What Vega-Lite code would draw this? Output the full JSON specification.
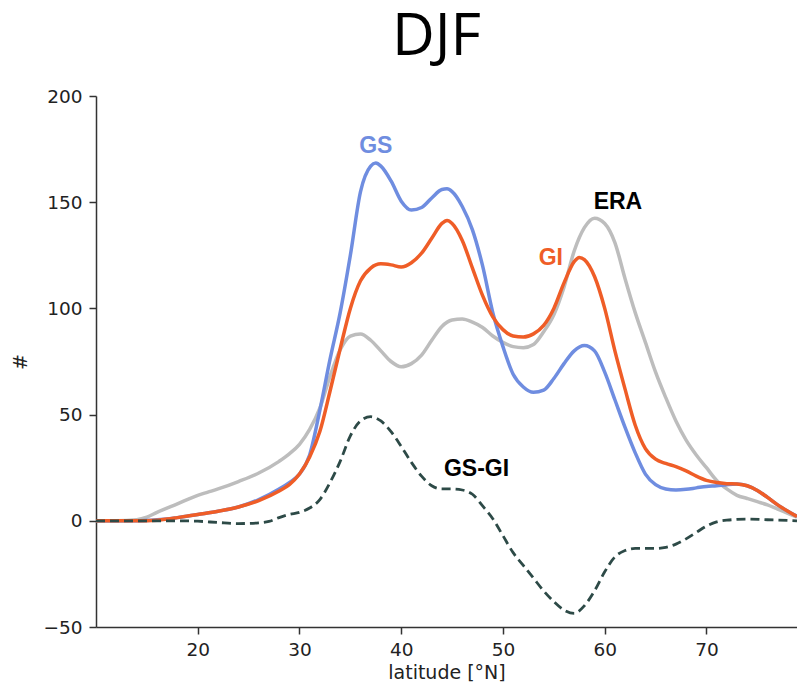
{
  "$schema": "https://vega.github.io/schema/vega-lite/v6.json",
  "autosize": "none",
  "width": 701,
  "height": 531,
  "padding": {"left": 96, "top": 96, "right": 0, "bottom": 60},
  "background": "white",
  "title": {"text": "DJF", "font": "Open Sans", "fontSize": 59, "fontWeight": "normal", "color": "#000", "anchor": "middle", "offset": 20, "dx": -10},
  "config": {
    "view": {"stroke": null},
    "axis": {"domainColor": "#333", "domainWidth": 1.5, "tickColor": "#333", "tickWidth": 1.5, "tickSize": 7, "labelFont": "DejaVu Sans", "labelFontSize": 18.5, "labelColor": "#222", "titleFont": "DejaVu Sans", "titleFontSize": 19, "titleFontWeight": "normal", "titleColor": "#222", "grid": false}
  },
  "datasets": {
    "curves": [
      {"series": "GS", "lat": 10, "val": 0}, {"series": "GS", "lat": 12, "val": 0}, {"series": "GS", "lat": 14, "val": 0}, {"series": "GS", "lat": 16, "val": 0.5}, {"series": "GS", "lat": 18, "val": 1.5}, {"series": "GS", "lat": 20, "val": 3}, {"series": "GS", "lat": 22, "val": 4.5}, {"series": "GS", "lat": 24, "val": 6.5}, {"series": "GS", "lat": 26, "val": 10}, {"series": "GS", "lat": 28, "val": 15}, {"series": "GS", "lat": 29, "val": 18}, {"series": "GS", "lat": 30, "val": 22}, {"series": "GS", "lat": 31, "val": 31}, {"series": "GS", "lat": 32, "val": 52}, {"series": "GS", "lat": 33, "val": 76}, {"series": "GS", "lat": 34, "val": 98}, {"series": "GS", "lat": 35, "val": 125}, {"series": "GS", "lat": 36, "val": 155}, {"series": "GS", "lat": 37, "val": 167}, {"series": "GS", "lat": 37.5, "val": 168.4}, {"series": "GS", "lat": 38, "val": 167}, {"series": "GS", "lat": 39, "val": 160}, {"series": "GS", "lat": 40, "val": 150.5}, {"series": "GS", "lat": 41, "val": 146.3}, {"series": "GS", "lat": 42, "val": 147.5}, {"series": "GS", "lat": 43, "val": 152}, {"series": "GS", "lat": 44, "val": 156}, {"series": "GS", "lat": 44.5, "val": 156.3}, {"series": "GS", "lat": 45, "val": 155}, {"series": "GS", "lat": 46, "val": 148}, {"series": "GS", "lat": 47, "val": 137}, {"series": "GS", "lat": 48, "val": 120}, {"series": "GS", "lat": 49, "val": 98}, {"series": "GS", "lat": 50, "val": 82}, {"series": "GS", "lat": 51, "val": 69}, {"series": "GS", "lat": 52, "val": 63}, {"series": "GS", "lat": 53, "val": 60.5}, {"series": "GS", "lat": 54, "val": 61.5}, {"series": "GS", "lat": 55, "val": 67}, {"series": "GS", "lat": 56, "val": 74}, {"series": "GS", "lat": 57, "val": 80}, {"series": "GS", "lat": 58, "val": 82.5}, {"series": "GS", "lat": 59, "val": 80}, {"series": "GS", "lat": 60, "val": 70}, {"series": "GS", "lat": 61, "val": 57}, {"series": "GS", "lat": 62, "val": 44}, {"series": "GS", "lat": 63, "val": 32}, {"series": "GS", "lat": 64, "val": 22}, {"series": "GS", "lat": 65, "val": 17}, {"series": "GS", "lat": 66, "val": 15}, {"series": "GS", "lat": 67, "val": 14.5}, {"series": "GS", "lat": 68, "val": 14.8}, {"series": "GS", "lat": 69, "val": 15.5}, {"series": "GS", "lat": 70, "val": 16.2}, {"series": "GS", "lat": 71, "val": 16.5}, {"series": "GS", "lat": 72, "val": 17}, {"series": "GS", "lat": 73, "val": 17.3}, {"series": "GS", "lat": 74, "val": 16.5}, {"series": "GS", "lat": 75, "val": 14.3}, {"series": "GS", "lat": 76, "val": 11}, {"series": "GS", "lat": 77, "val": 7.5}, {"series": "GS", "lat": 78, "val": 4.5}, {"series": "GS", "lat": 78.9, "val": 2.2},

      {"series": "GI", "lat": 10, "val": 0}, {"series": "GI", "lat": 12, "val": 0}, {"series": "GI", "lat": 14, "val": 0}, {"series": "GI", "lat": 16, "val": 0.3}, {"series": "GI", "lat": 17, "val": 0.8}, {"series": "GI", "lat": 18, "val": 1.5}, {"series": "GI", "lat": 20, "val": 3}, {"series": "GI", "lat": 22, "val": 4.5}, {"series": "GI", "lat": 24, "val": 6.5}, {"series": "GI", "lat": 26, "val": 9.5}, {"series": "GI", "lat": 28, "val": 14}, {"series": "GI", "lat": 29, "val": 17}, {"series": "GI", "lat": 30, "val": 22}, {"series": "GI", "lat": 31, "val": 30}, {"series": "GI", "lat": 32, "val": 42}, {"series": "GI", "lat": 33, "val": 61}, {"series": "GI", "lat": 34, "val": 81}, {"series": "GI", "lat": 35, "val": 100}, {"series": "GI", "lat": 36, "val": 113}, {"series": "GI", "lat": 37, "val": 119}, {"series": "GI", "lat": 38, "val": 121}, {"series": "GI", "lat": 39, "val": 120.5}, {"series": "GI", "lat": 40, "val": 119.5}, {"series": "GI", "lat": 41, "val": 121.5}, {"series": "GI", "lat": 42, "val": 126}, {"series": "GI", "lat": 43, "val": 133}, {"series": "GI", "lat": 44, "val": 140}, {"series": "GI", "lat": 44.5, "val": 141.4}, {"series": "GI", "lat": 45, "val": 140}, {"series": "GI", "lat": 46, "val": 132}, {"series": "GI", "lat": 47, "val": 119}, {"series": "GI", "lat": 48, "val": 106}, {"series": "GI", "lat": 49, "val": 96}, {"series": "GI", "lat": 50, "val": 90}, {"series": "GI", "lat": 51, "val": 87}, {"series": "GI", "lat": 52, "val": 86.5}, {"series": "GI", "lat": 53, "val": 88}, {"series": "GI", "lat": 54, "val": 92}, {"series": "GI", "lat": 55, "val": 100}, {"series": "GI", "lat": 56, "val": 112}, {"series": "GI", "lat": 57, "val": 122}, {"series": "GI", "lat": 57.5, "val": 124}, {"series": "GI", "lat": 58, "val": 123}, {"series": "GI", "lat": 59, "val": 115}, {"series": "GI", "lat": 60, "val": 100}, {"series": "GI", "lat": 61, "val": 80}, {"series": "GI", "lat": 62, "val": 62}, {"series": "GI", "lat": 63, "val": 45}, {"series": "GI", "lat": 64, "val": 34}, {"series": "GI", "lat": 65, "val": 29}, {"series": "GI", "lat": 66, "val": 27}, {"series": "GI", "lat": 67, "val": 25.5}, {"series": "GI", "lat": 68, "val": 23.5}, {"series": "GI", "lat": 69, "val": 21}, {"series": "GI", "lat": 70, "val": 19}, {"series": "GI", "lat": 71, "val": 18}, {"series": "GI", "lat": 72, "val": 17.5}, {"series": "GI", "lat": 73, "val": 17.3}, {"series": "GI", "lat": 74, "val": 16.5}, {"series": "GI", "lat": 75, "val": 14.3}, {"series": "GI", "lat": 76, "val": 11}, {"series": "GI", "lat": 77, "val": 7.5}, {"series": "GI", "lat": 78, "val": 4.5}, {"series": "GI", "lat": 78.9, "val": 2},

      {"series": "ERA", "lat": 10, "val": 0}, {"series": "ERA", "lat": 12, "val": 0}, {"series": "ERA", "lat": 14, "val": 0.5}, {"series": "ERA", "lat": 15, "val": 1.7}, {"series": "ERA", "lat": 16, "val": 4}, {"series": "ERA", "lat": 18, "val": 8}, {"series": "ERA", "lat": 20, "val": 12}, {"series": "ERA", "lat": 21, "val": 13.5}, {"series": "ERA", "lat": 22, "val": 15}, {"series": "ERA", "lat": 24, "val": 18.5}, {"series": "ERA", "lat": 26, "val": 22.5}, {"series": "ERA", "lat": 28, "val": 28}, {"series": "ERA", "lat": 29, "val": 31.5}, {"series": "ERA", "lat": 30, "val": 36}, {"series": "ERA", "lat": 31, "val": 43}, {"series": "ERA", "lat": 32, "val": 53}, {"series": "ERA", "lat": 33, "val": 68}, {"series": "ERA", "lat": 34, "val": 80.5}, {"series": "ERA", "lat": 35, "val": 87}, {"series": "ERA", "lat": 36, "val": 88}, {"series": "ERA", "lat": 37, "val": 85}, {"series": "ERA", "lat": 38, "val": 80}, {"series": "ERA", "lat": 39, "val": 75}, {"series": "ERA", "lat": 40, "val": 72.5}, {"series": "ERA", "lat": 41, "val": 74}, {"series": "ERA", "lat": 42, "val": 78}, {"series": "ERA", "lat": 43, "val": 85}, {"series": "ERA", "lat": 44, "val": 91.5}, {"series": "ERA", "lat": 45, "val": 94.5}, {"series": "ERA", "lat": 46, "val": 95}, {"series": "ERA", "lat": 47, "val": 93.5}, {"series": "ERA", "lat": 48, "val": 91}, {"series": "ERA", "lat": 49, "val": 87}, {"series": "ERA", "lat": 50, "val": 84}, {"series": "ERA", "lat": 51, "val": 82}, {"series": "ERA", "lat": 52, "val": 81.5}, {"series": "ERA", "lat": 53, "val": 83}, {"series": "ERA", "lat": 54, "val": 89}, {"series": "ERA", "lat": 55, "val": 97}, {"series": "ERA", "lat": 56, "val": 110}, {"series": "ERA", "lat": 57, "val": 127}, {"series": "ERA", "lat": 58, "val": 138}, {"series": "ERA", "lat": 59, "val": 142.5}, {"series": "ERA", "lat": 60, "val": 140}, {"series": "ERA", "lat": 61, "val": 131}, {"series": "ERA", "lat": 62, "val": 114}, {"series": "ERA", "lat": 63, "val": 98}, {"series": "ERA", "lat": 64, "val": 84}, {"series": "ERA", "lat": 65, "val": 70}, {"series": "ERA", "lat": 66, "val": 58}, {"series": "ERA", "lat": 67, "val": 47}, {"series": "ERA", "lat": 68, "val": 38}, {"series": "ERA", "lat": 69, "val": 31}, {"series": "ERA", "lat": 70, "val": 25}, {"series": "ERA", "lat": 71, "val": 19}, {"series": "ERA", "lat": 72, "val": 15}, {"series": "ERA", "lat": 73, "val": 12}, {"series": "ERA", "lat": 74, "val": 10.5}, {"series": "ERA", "lat": 75, "val": 9}, {"series": "ERA", "lat": 76, "val": 7.5}, {"series": "ERA", "lat": 77, "val": 5.5}, {"series": "ERA", "lat": 78, "val": 3.5}, {"series": "ERA", "lat": 78.9, "val": 1.7},

      {"series": "GS-GI", "lat": 10, "val": 0}, {"series": "GS-GI", "lat": 14, "val": 0}, {"series": "GS-GI", "lat": 18, "val": 0}, {"series": "GS-GI", "lat": 20, "val": -0.2}, {"series": "GS-GI", "lat": 22, "val": -0.8}, {"series": "GS-GI", "lat": 24, "val": -1.3}, {"series": "GS-GI", "lat": 26, "val": -1}, {"series": "GS-GI", "lat": 27, "val": -0.3}, {"series": "GS-GI", "lat": 28, "val": 1.5}, {"series": "GS-GI", "lat": 29, "val": 3}, {"series": "GS-GI", "lat": 30, "val": 4}, {"series": "GS-GI", "lat": 31, "val": 6}, {"series": "GS-GI", "lat": 32, "val": 10}, {"series": "GS-GI", "lat": 33, "val": 18}, {"series": "GS-GI", "lat": 34, "val": 28}, {"series": "GS-GI", "lat": 35, "val": 40}, {"series": "GS-GI", "lat": 36, "val": 47}, {"series": "GS-GI", "lat": 37, "val": 49}, {"series": "GS-GI", "lat": 38, "val": 47}, {"series": "GS-GI", "lat": 39, "val": 42}, {"series": "GS-GI", "lat": 40, "val": 35}, {"series": "GS-GI", "lat": 41, "val": 27.5}, {"series": "GS-GI", "lat": 42, "val": 21}, {"series": "GS-GI", "lat": 43, "val": 16.5}, {"series": "GS-GI", "lat": 44, "val": 15}, {"series": "GS-GI", "lat": 45, "val": 15}, {"series": "GS-GI", "lat": 46, "val": 14.5}, {"series": "GS-GI", "lat": 47, "val": 12.5}, {"series": "GS-GI", "lat": 48, "val": 7}, {"series": "GS-GI", "lat": 49, "val": 1}, {"series": "GS-GI", "lat": 50, "val": -7}, {"series": "GS-GI", "lat": 51, "val": -15}, {"series": "GS-GI", "lat": 52, "val": -21}, {"series": "GS-GI", "lat": 53, "val": -27}, {"series": "GS-GI", "lat": 54, "val": -33}, {"series": "GS-GI", "lat": 55, "val": -38}, {"series": "GS-GI", "lat": 56, "val": -42}, {"series": "GS-GI", "lat": 57, "val": -43.6}, {"series": "GS-GI", "lat": 58, "val": -40}, {"series": "GS-GI", "lat": 59, "val": -33}, {"series": "GS-GI", "lat": 60, "val": -24}, {"series": "GS-GI", "lat": 61, "val": -17}, {"series": "GS-GI", "lat": 62, "val": -14}, {"series": "GS-GI", "lat": 63, "val": -13}, {"series": "GS-GI", "lat": 64, "val": -13}, {"series": "GS-GI", "lat": 65, "val": -13}, {"series": "GS-GI", "lat": 66, "val": -12.5}, {"series": "GS-GI", "lat": 67, "val": -11}, {"series": "GS-GI", "lat": 68, "val": -8.5}, {"series": "GS-GI", "lat": 69, "val": -5.5}, {"series": "GS-GI", "lat": 70, "val": -2.5}, {"series": "GS-GI", "lat": 71, "val": -0.5}, {"series": "GS-GI", "lat": 72, "val": 0.3}, {"series": "GS-GI", "lat": 74, "val": 0.8}, {"series": "GS-GI", "lat": 76, "val": 0.5}, {"series": "GS-GI", "lat": 78, "val": 0.2}, {"series": "GS-GI", "lat": 78.9, "val": 0}
    ],
    "labels": [
      {"label": "GS", "lat": 37.5, "val": 176.5},
      {"label": "ERA", "lat": 61.3, "val": 150.3},
      {"label": "GI", "lat": 54.7, "val": 123.5},
      {"label": "GS-GI", "lat": 47.4, "val": 24.2}
    ]
  },
  "layer": [
    {"mark": {"type": "rule", "color": "#333", "strokeWidth": 1.5}, "encoding": {"y": {"datum": 200, "type": "quantitative"}}},
    {"mark": {"type": "rule", "color": "#000", "strokeWidth": 2.5}, "encoding": {"y": {"datum": 0, "type": "quantitative"}}},
    {
      "data": {"name": "curves"},
      "transform": [{"filter": "datum.series === 'ERA'"}],
      "mark": {"type": "line", "interpolate": "monotone", "strokeWidth": 3.5, "color": "#bdbdbd"},
      "encoding": {
        "x": {"field": "lat", "type": "quantitative", "scale": {"domain": [10, 78.9], "nice": false, "zero": false}, "axis": {"values": [20, 30, 40, 50, 60, 70], "title": "latitude [°N]", "labelPadding": 6, "titlePadding": 5}},
        "y": {"field": "val", "type": "quantitative", "scale": {"domain": [-50, 200], "nice": false}, "axis": {"values": [-50, 0, 50, 100, 150, 200], "title": "#", "labelPadding": 7, "titlePadding": 12}}
      }
    },
    {
      "data": {"name": "curves"},
      "transform": [{"filter": "datum.series === 'GS'"}],
      "mark": {"type": "line", "interpolate": "monotone", "strokeWidth": 3.5, "color": "#6f8de0"},
      "encoding": {"x": {"field": "lat", "type": "quantitative"}, "y": {"field": "val", "type": "quantitative"}}
    },
    {
      "data": {"name": "curves"},
      "transform": [{"filter": "datum.series === 'GI'"}],
      "mark": {"type": "line", "interpolate": "monotone", "strokeWidth": 3.5, "color": "#ef5d27"},
      "encoding": {"x": {"field": "lat", "type": "quantitative"}, "y": {"field": "val", "type": "quantitative"}}
    },
    {
      "data": {"name": "curves"},
      "transform": [{"filter": "datum.series === 'GS-GI'"}],
      "mark": {"type": "line", "interpolate": "monotone", "strokeWidth": 2.8, "strokeDash": [9, 5], "color": "#2d4a47"},
      "encoding": {"x": {"field": "lat", "type": "quantitative"}, "y": {"field": "val", "type": "quantitative"}}
    },
    {
      "data": {"name": "labels"},
      "mark": {"type": "text", "font": "Liberation Sans", "fontWeight": "bold", "fontSize": 23, "align": "center", "baseline": "middle"},
      "encoding": {
        "x": {"field": "lat", "type": "quantitative"},
        "y": {"field": "val", "type": "quantitative"},
        "text": {"field": "label"},
        "color": {"field": "label", "type": "nominal", "scale": {"domain": ["GS", "GI", "ERA", "GS-GI"], "range": ["#6f8de0", "#ef5d27", "#000000", "#000000"]}, "legend": null}
      }
    }
  ]
}
